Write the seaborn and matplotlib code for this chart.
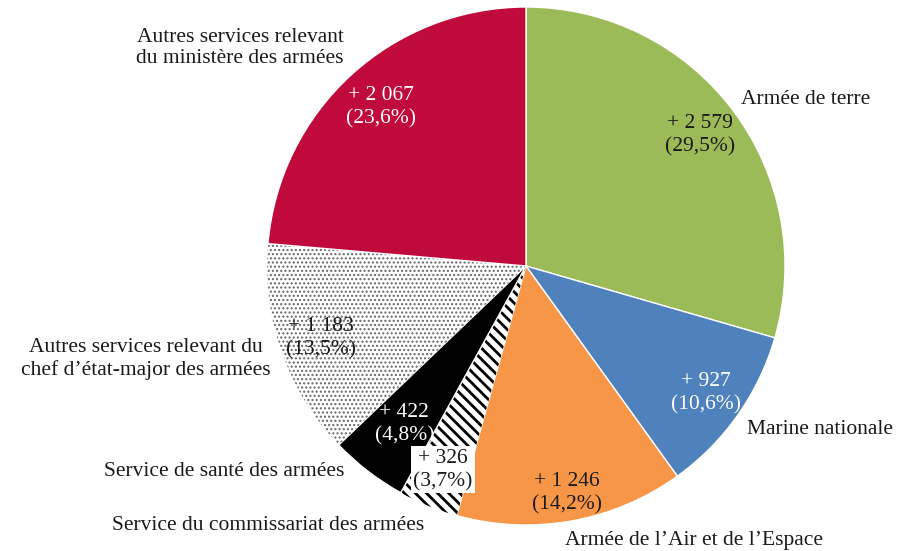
import matplotlib
matplotlib.use("Agg")
import matplotlib.pyplot as plt
import numpy as np
import seaborn as sns

# data (clockwise from the top)
categories = [
    "Armée de terre",
    "Marine nationale",
    "Armée de l\u2019Air et de l\u2019Espace",
    "Service du commissariat des armées",
    "Service de santé des armées",
    "Autres services relevant du\nchef d\u2019état-major des armées",
    "Autres services relevant\ndu ministère des armées",
]
values = [2579, 927, 1246, 326, 422, 1183, 2067]
value_labels = ["+ 2 579", "+ 927", "+ 1 246", "+ 326", "+ 422", "+ 1 183", "+ 2 067"]
pct_labels = ["(29,5%)", "(10,6%)", "(14,2%)", "(3,7%)", "(4,8%)", "(13,5%)", "(23,6%)"]

colors = ["#9BBB59", "#4F81BD", "#F79646", "white", "black", "white", "#C00A3C"]
hatches = [None, None, None, "\\\\\\", None, "....", None]
hatch_colors = [None, None, None, "black", None, "#666666", None]
text_colors = ["#1a1a1a", "white", "#1a1a1a", "#1a1a1a", "white", "#1a1a1a", "white"]
inner_r = [0.84, 0.85, 0.89, 0.85, 0.77, 0.84, 0.83]

# outer label positions in pixels (centre of text block)
outer_px = [(806, 100), (820, 430), (694, 540), (268, 525), (224, 472), (146, 359), (240, 48)]

sns.set_theme(style="white")
plt.rcParams["font.family"] = ["Liberation Serif", "DejaVu Serif"]

W, H = 899, 551
cx, cy, R = 526, 266, 259
fig = plt.figure(figsize=(W / 100, H / 100), dpi=100)
ax = fig.add_axes([(cx - R) / W, (H - cy - R) / H, 2 * R / W, 2 * R / H])

wedges, _ = ax.pie(
    values,
    colors=colors,
    startangle=90,
    counterclock=False,
    radius=1,
    wedgeprops=dict(edgecolor="white", linewidth=1),
)
ax.set_xlim(-1, 1)
ax.set_ylim(-1, 1)
ax.axis("off")

for w, h, hc in zip(wedges, hatches, hatch_colors):
    if h:
        w.set_hatch(h)
        w.set_edgecolor(hc)
        w.set_linewidth(0)
        if hasattr(w, "set_hatch_linewidth"):
            w.set_hatch_linewidth(2.0 if hc == "black" else 1.0)

for i, w in enumerate(wedges):
    mid = np.deg2rad((w.theta1 + w.theta2) / 2)
    x, y = inner_r[i] * np.cos(mid), inner_r[i] * np.sin(mid)
    bbox = None
    if i == 3:
        bbox = dict(facecolor="white", edgecolor="none", pad=1.5)
    ax.text(x, y, value_labels[i] + "\n" + pct_labels[i], ha="center", va="center",
            fontsize=15.5, color=text_colors[i], linespacing=1.3, bbox=bbox)

for label, (px, py) in zip(categories, outer_px):
    ax.text((px - cx) / R, (cy - py) / R, label, ha="center", va="center",
            fontsize=15.5, color="#1a1a1a", linespacing=1.2, clip_on=False)

fig.savefig("out.png", dpi=100)
